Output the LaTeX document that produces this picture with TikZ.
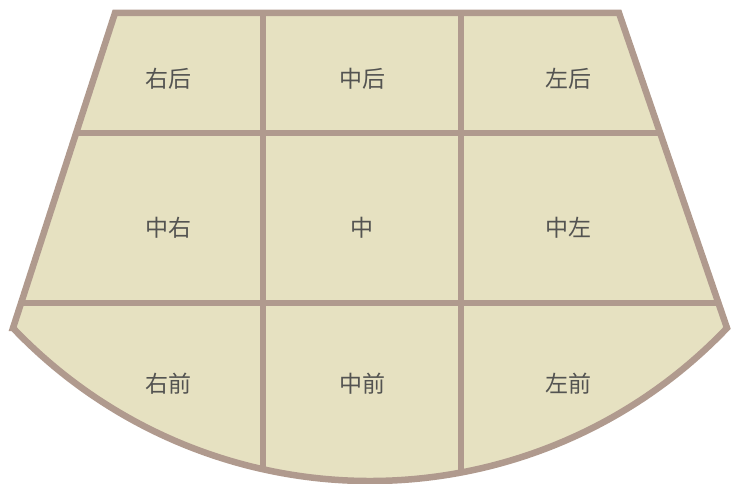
\documentclass[tikz,border=0pt]{standalone}
\usepackage{fontspec}
\newfontfamily\cjk{Noto Sans CJK SC}
\definecolor{fieldfill}{HTML}{E6E1C1}
\definecolor{fieldline}{HTML}{B09A8E}
\definecolor{labeltext}{HTML}{535351}
\begin{document}
\begin{tikzpicture}[x=1pt,y=1pt,
  zone/.style={font=\cjk\fontsize{23}{23}\selectfont, text=labeltext, inner sep=0pt},
  divider/.style={draw=fieldline, line width=6.5pt},
  outline/.style={draw=fieldline, line width=6.5pt, line join=miter}]
\useasboundingbox (0,0) rectangle (731,484);
\def\fieldshape{(13,156) -- (115,471) -- (619,471) -- (727,156) arc[start angle=316.4, end angle=223.6, radius=493] -- cycle}
\fill[fieldfill] \fieldshape;
\begin{scope}
  \clip \fieldshape;
  \draw[divider] (0,351) -- (731,351);
  \draw[divider] (0,181) -- (731,181);
  \draw[divider] (263,484) -- (263,0);
  \draw[divider] (461,484) -- (461,0);
\end{scope}
\draw[outline] \fieldshape;
\node[zone] (rb) at (168,405) {右后};
\node[zone] (cb) at (362,405) {中后};
\node[zone] (lb) at (568,405) {左后};
\node[zone] (rc) at (168,256) {中右};
\node[zone] (cc) at (362,256) {中};
\node[zone] (lc) at (568,256) {中左};
\node[zone] (rf) at (168,100) {右前};
\node[zone] (cf) at (362,100) {中前};
\node[zone] (lf) at (568,100) {左前};
\end{tikzpicture}
\end{document}
